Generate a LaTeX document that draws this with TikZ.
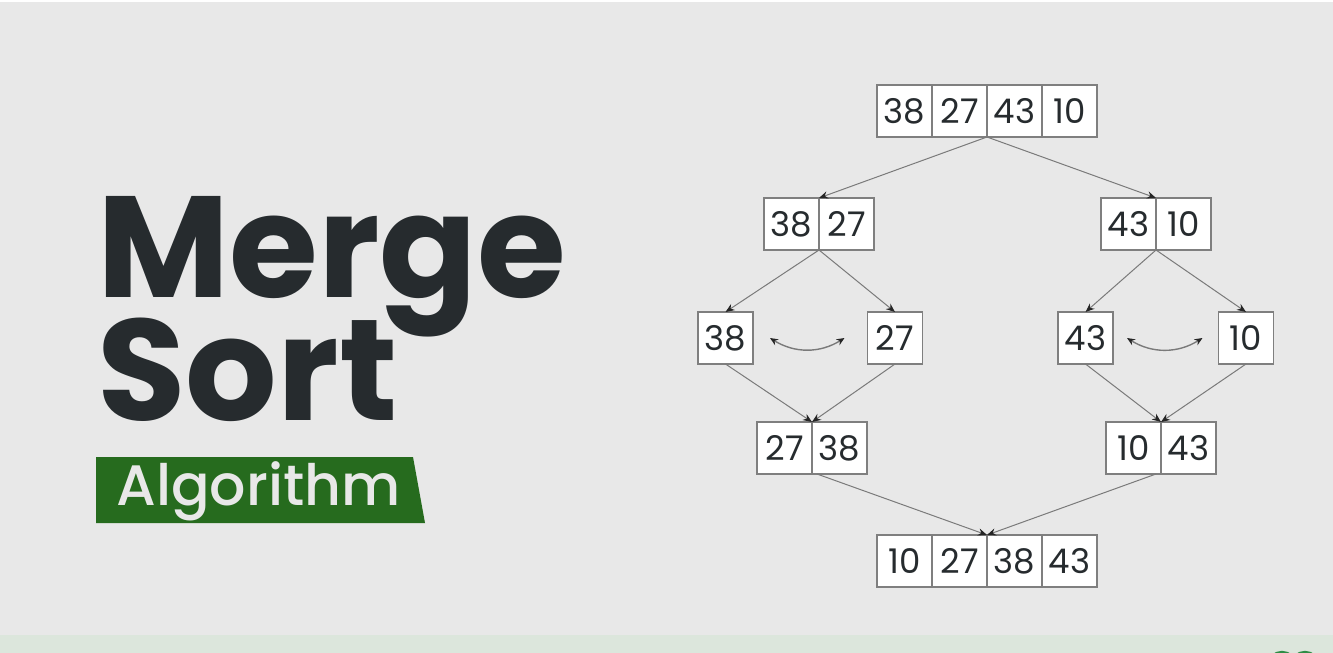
\documentclass[tikz,border=0pt]{standalone}
\usepackage{fontspec}
\setmainfont{Poppins}
\newfontfamily\badgefont{Poppins Medium}
\usetikzlibrary{arrows.meta,calc,positioning}
\definecolor{pagegray}{HTML}{E8E8E8}
\definecolor{stripgreen}{HTML}{DCE6DC}
\definecolor{titledark}{HTML}{262B2E}
\definecolor{badgegreen}{HTML}{266B1E}
\definecolor{logogreen}{HTML}{2F8D46}
\definecolor{cellborder}{HTML}{7F7F7F}
\definecolor{flowgray}{HTML}{7A7A7A}
\newcommand{\MergeTitleFont}{\fontsize{72pt}{86pt}\selectfont\bfseries}
\newcommand{\MergeCellFont}{\fontsize{17pt}{20pt}\selectfont}
\newcommand{\MergeBadgeFont}{\fontsize{28.5pt}{34pt}\selectfont\badgefont}

\begin{document}
\begin{tikzpicture}[x=0.5pt,y=-0.5pt]
    \tikzset{
        merge cell/.style={draw=cellborder, fill=white, line width=0.7pt,
            minimum width=27.5pt, minimum height=26pt, inner sep=0pt,
            outer sep=0pt, font=\MergeCellFont, text=titledark},
        merge flow/.style={-{Stealth[length=4.5pt,width=3.6pt,color=black!85]},
            draw=flowgray, line width=0.5pt},
        merge swap/.style={{Stealth[length=4pt,width=3.4pt,color=black!85]}-{Stealth[length=4pt,width=3.4pt,color=black!85]},
            draw=flowgray, line width=0.7pt}
    }
    \useasboundingbox (0,0) rectangle (1333,653);
    \fill[white] (0,0) rectangle (1333,653);
    \fill[pagegray] (0,2) rectangle (1333,635);
    \fill[stripgreen] (0,635) rectangle (1333,653);
    \begin{scope}
        \clip (0,635) rectangle (1333,653);
        \draw[logogreen, line width=2.2pt] (1282,666) circle (13);
        \draw[logogreen, line width=2.2pt] (1305,666) circle (13);
    \end{scope}

    \node[anchor=base west, inner sep=0pt, font=\MergeTitleFont, text=titledark]
        (title-merge) at (97,297) {Merge};
    \node[anchor=base west, inner sep=0pt, font=\MergeTitleFont, text=titledark]
        (title-sort) at (97,420) {Sort};
    \fill[badgegreen] (96,457) -- (413,457) -- (425,523) -- (96,523) -- cycle;
    \node[anchor=base west, inner sep=0pt, font=\MergeBadgeFont, text=pagegray]
        (title-algorithm) at (116,505) {Algorithm};

    \foreach \row/\xfirst/\yc/\values in {top/904.5/111/{38,27,43,10},
            splitl/791.5/224/{38,27}, splitr/1128.5/224/{43,10},
            mergel/784.5/448/{27,38}, merger/1133.5/448/{10,43},
            bottom/904.5/561/{10,27,38,43}} {
        \foreach \v [count=\i] in \values {
            \node[merge cell] (\row-\i) at (\xfirst+\i*55-55,\yc) {\v};
        }
    }
    \foreach \v/\xc [count=\i] in {38/725.5,27/895,43/1085.5,10/1246} {
        \node[merge cell] (leaf-\i) at (\xc,338) {\v};
    }

    \draw[merge flow] (top-2.south east) -- (splitl-1.north east);
    \draw[merge flow] (top-2.south east) -- (splitr-1.north east);
    \draw[merge flow] (splitl-1.south east) -- (leaf-1.north);
    \draw[merge flow] (splitl-1.south east) -- (leaf-2.north);
    \draw[merge flow] (splitr-1.south east) -- (leaf-3.north);
    \draw[merge flow] (splitr-1.south east) -- (leaf-4.north);
    \draw[merge flow] (leaf-1.south) -- (mergel-1.north east);
    \draw[merge flow] (leaf-2.south) -- (mergel-1.north east);
    \draw[merge flow] (leaf-3.south) -- (merger-1.north east);
    \draw[merge flow] (leaf-4.south) -- (merger-1.north east);
    \draw[merge flow] ([xshift=2.5pt]mergel-1.south east) -- (bottom-2.north east);
    \draw[merge flow] ([xshift=-2.5pt]merger-1.south east) -- (bottom-2.north east);

    \coordinate (swap-left-a) at ([xshift=8.5pt]leaf-1.east);
    \coordinate (swap-left-b) at ([xshift=-11.5pt]leaf-2.west);
    \coordinate (swap-right-a) at ([xshift=7pt]leaf-3.east);
    \coordinate (swap-right-b) at ([xshift=-8pt]leaf-4.west);
    \draw[merge swap] (swap-left-a) to[bend right=32] (swap-left-b);
    \draw[merge swap] (swap-right-a) to[bend right=32] (swap-right-b);
\end{tikzpicture}
\end{document}
